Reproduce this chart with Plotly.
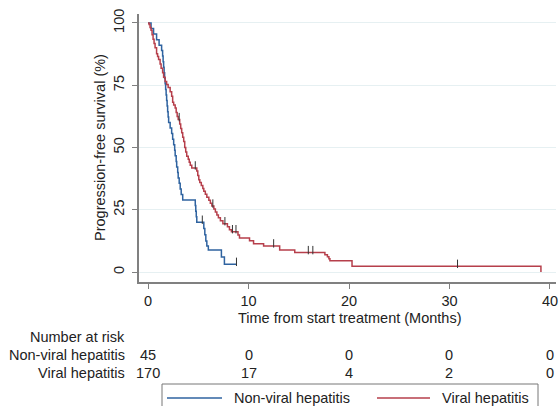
import plotly.graph_objects as go

# ---------------- data ----------------
nonviral_t = [0, 0.3, 0.55, 0.85, 1.1, 1.35, 1.45, 1.5, 1.55, 1.6, 1.65, 1.7, 1.75, 1.8, 1.85,
              1.9, 1.95, 2.0, 2.05, 2.2, 2.35, 2.45, 2.55, 2.65, 2.7, 2.8, 2.85, 2.95, 3.0,
              3.1, 3.2, 3.3, 3.45, 4.7, 4.75, 4.8, 4.85, 5.55, 5.65, 5.75, 5.85, 6.0, 7.3,
              7.6, 8.8]
nonviral_s = [100, 97.8, 95.6, 93.3, 91.1, 88.9, 86.7, 84.4, 82.2, 80.0, 77.8, 75.6, 73.3,
              71.1, 68.9, 66.7, 64.4, 62.2, 60.0, 57.8, 55.6, 53.3, 51.1, 48.9, 46.7, 44.4,
              42.2, 40.0, 37.8, 35.6, 33.3, 31.1, 28.9, 26.7, 24.4, 22.2, 20.0, 17.5, 15.0,
              12.5, 10.5, 8.8, 6.0, 3.1, 3.1]
nonviral_cens_t = [5.4, 8.8]
nonviral_cens_s = [20.0, 3.1]

viral_t = [0, 0.1, 0.2, 0.3, 0.4, 0.5, 0.6, 0.7, 0.85, 0.95, 1.05, 1.2, 1.3, 1.45, 1.55,
           1.7, 1.85, 2.0, 2.2, 2.35, 2.45, 2.55, 2.7, 2.8, 2.9, 3.0, 3.15, 3.25, 3.35, 3.45,
           3.55, 3.65, 3.75, 3.85, 4.0, 4.1, 4.2, 4.35, 4.85, 4.95, 5.05, 5.15, 5.3, 5.45,
           5.55, 5.7, 5.85, 6.05, 6.2, 6.35, 6.55, 6.7, 6.85, 7.0, 7.2, 7.45, 7.9, 8.1, 8.3,
           8.95, 9.1, 10.1, 10.5, 11.5, 13.1, 14.6, 17.6, 17.85, 18.0, 18.1, 20.3, 39.1]
viral_s = [100, 99.4, 98.2, 97.1, 95.3, 93.5, 91.8, 90.0, 87.6, 86.5, 85.3, 83.5, 81.8, 80.0,
           78.2, 76.5, 75.3, 74.1, 72.4, 70.6, 68.2, 67.1, 65.9, 64.1, 62.4, 61.2, 59.4, 57.6,
           55.9, 54.1, 52.4, 50.0, 48.2, 46.5, 45.3, 44.1, 42.9, 41.8, 40.6, 38.8, 37.1, 35.9,
           34.7, 33.5, 32.4, 31.2, 30.0, 28.8, 27.6, 26.5, 25.3, 24.1, 22.9, 21.8, 20.6, 19.4,
           18.2, 17.0, 16.2, 14.9, 13.7, 12.6, 11.4, 10.5, 8.8, 7.8, 6.9, 6.1, 5.3, 4.5, 2.3, 0]
viral_cens_t = [3.1, 4.7, 6.45, 7.65, 8.4, 8.75, 12.5, 15.95, 16.4, 30.8]
viral_cens_s = [61.2, 41.8, 26.5, 19.4, 16.2, 16.2, 10.5, 7.8, 7.8, 2.3]

x_ticks = [0, 10, 20, 30, 40]
y_ticks = [0, 25, 50, 75, 100]
risk_groups = ["Non-viral hepatitis", "Viral hepatitis"]
risk_nonviral = [45, 0, 0, 0, 0]
risk_viral = [170, 17, 4, 2, 0]

# ---------------- style ----------------
BLUE = "#2f63a0"
RED = "#b63f4b"
FONT = "Liberation Sans, Arial, sans-serif"
FS = 14.5
TXT = "#222222"
AX = "#808080"
GRID = "#e6f0f2"
W, H = 560, 406
L, R, T, B = 139, 4, 14, 124
PLOT_H = H - T - B          # 268
PLOT_W = W - L - R          # 417
AXIS_BOTTOM = H - B         # 282
AXIS_LEFT = L               # 139


def py(pix):
    return (AXIS_BOTTOM - pix) / PLOT_H


def px(pix):
    return (pix - AXIS_LEFT) / PLOT_W


def font():
    return dict(size=FS, color=TXT, family=FONT)


fig = go.Figure()
fig.add_trace(go.Scatter(x=nonviral_t, y=nonviral_s, mode="lines", line_shape="hv",
                         line=dict(color=BLUE, width=1.5), name="Non-viral hepatitis",
                         showlegend=False))
fig.add_trace(go.Scatter(x=viral_t, y=viral_s, mode="lines", line_shape="hv",
                         line=dict(color=RED, width=1.5), name="Viral hepatitis",
                         showlegend=False))
TICK_OFF = 1.0
for ct, cs in ((nonviral_cens_t, nonviral_cens_s), (viral_cens_t, viral_cens_s)):
    fig.add_trace(go.Scatter(x=ct, y=[v + TICK_OFF for v in cs],
                             mode="markers", showlegend=False, hoverinfo="skip",
                             marker=dict(symbol="line-ns", size=6,
                                         line=dict(color="#333333", width=1))))

ann = []
ann.append(dict(text="Time from start treatment (Months)", x=20, xref="x", y=py(318),
                yref="paper", showarrow=False, xanchor="center", yanchor="middle",
                font=font()))
ann.append(dict(text="Progression-free survival (%)", x=px(100), xref="paper", y=py(148),
                yref="paper", showarrow=False, textangle=-90, xanchor="center",
                yanchor="middle", font=font()))
ann.append(dict(text="Number at risk", x=px(127), xref="paper", y=py(337), yref="paper",
                showarrow=False, xanchor="right", yanchor="middle", font=font()))
rows = [risk_nonviral, risk_viral]
row_y = [355, 373]
for name, vals, ry in zip(risk_groups, rows, row_y):
    ann.append(dict(text=name, x=px(127), xref="paper", y=py(ry), yref="paper",
                    showarrow=False, xanchor="right", yanchor="middle", font=font()))
    for xt, v in zip(x_ticks, vals):
        ann.append(dict(text=str(v), x=xt, xref="x", y=py(ry), yref="paper",
                        showarrow=False, xanchor="center", yanchor="middle", font=font()))

# legend (custom box)
shapes = [
    dict(type="rect", xref="paper", yref="paper", x0=px(162), x1=px(538),
         y0=py(415), y1=py(384), line=dict(color="#777777", width=1), fillcolor="white"),
    dict(type="line", xref="paper", yref="paper", x0=px(167), x1=px(222),
         y0=py(398), y1=py(398), line=dict(color=BLUE, width=1.5)),
    dict(type="line", xref="paper", yref="paper", x0=px(377), x1=px(430),
         y0=py(398), y1=py(398), line=dict(color=RED, width=1.5)),
]
ann.append(dict(text="Non-viral hepatitis", x=px(232), xref="paper", y=py(398),
                yref="paper", showarrow=False, xanchor="left", yanchor="middle", font=font()))
ann.append(dict(text="Viral hepatitis", x=px(440), xref="paper", y=py(398),
                yref="paper", showarrow=False, xanchor="left", yanchor="middle", font=font()))

fig.update_layout(
    width=W, height=H,
    margin=dict(l=L, r=R, t=T, b=B, autoexpand=False),
    paper_bgcolor="white", plot_bgcolor="white",
    font=font(),
    annotations=ann, shapes=shapes,
    xaxis=dict(range=[-0.9, 40.6], tickvals=x_ticks, ticktext=[str(v) for v in x_ticks],
               showgrid=False, zeroline=False, showline=True, linecolor=AX, linewidth=1.5,
               ticks="outside", ticklen=5, tickcolor=AX, tickwidth=1.2,
               tickfont=font(), fixedrange=True),
    yaxis=dict(range=[-4, 103.6], tickvals=y_ticks, ticktext=[str(v) for v in y_ticks],
               showgrid=True, gridcolor=GRID, gridwidth=1, zeroline=False, showline=True,
               linecolor=AX, linewidth=1.5, ticks="outside", ticklen=5, tickcolor=AX,
               tickwidth=1.2, tickangle=-90, ticklabelstandoff=2,
               tickfont=font(), fixedrange=True),
)

# remove the default page margin so the 560x406 figure fills the window exactly
fig.write_html("out.html",
               config={"displayModeBar": False},
               post_script="document.body.style.margin='0';"
                           "document.body.style.overflow='hidden';")
